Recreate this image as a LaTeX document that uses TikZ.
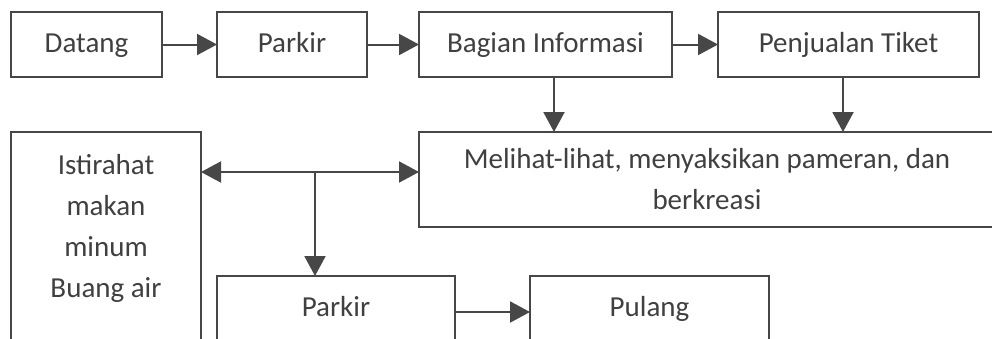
\documentclass[tikz,border=0pt]{standalone}
\usepackage{fontspec}
\setmainfont{Carlito}
\usetikzlibrary{arrows.meta,calc}
\definecolor{edgegray}{HTML}{474747}
\definecolor{inkgray}{HTML}{404040}
\tikzset{
  box/.style={draw=edgegray, line width=2pt, fill=white, inner sep=0pt, outer sep=0pt,
    text=inkgray, align=center, font=\fontsize{29}{41}\selectfont},
  oneline/.style={box, text height=21pt, text depth=6pt},
  flow/.style={draw=edgegray, line width=2pt, -{Triangle[length=20pt,width=21pt]}},
  flowboth/.style={draw=edgegray, line width=2pt, {Triangle[length=20pt,width=21pt]}-{Triangle[length=20pt,width=21pt]}}
}
\begin{document}
\begin{tikzpicture}[x=1pt,y=-1pt]
\useasboundingbox (0,0) rectangle (992,338);
\clip (0,0) rectangle (992,338);
\fill[white] (0,0) rectangle (992,338);

% first row
\node[oneline, minimum width=151pt, minimum height=65pt] (dat) at (86.5,44.5) {Datang};
\node[oneline, minimum width=150pt, minimum height=65pt] (par) at (292,44.5) {Parkir};
\node[oneline, minimum width=253pt, minimum height=65pt] (inf) at (545.5,44.5) {Bagian Informasi};
\node[oneline, minimum width=261pt, minimum height=65pt] (tik) at (848.5,44.5) {Penjualan Tiket};

% activity and rest
\node[box, minimum width=576pt, minimum height=95pt] (mel) at (707,179.5)
  {Melihat-lihat, menyaksikan pameran, dan\\berkreasi};
\node[box, minimum width=190pt, minimum height=228pt] (ist) at (106,246)
  {Istirahat\\makan\\minum\\Buang air\\ };

% leaving
\node[oneline, minimum width=238pt, minimum height=66pt] (pk2) at (336,309) {Parkir};
\node[oneline, minimum width=239pt, minimum height=66pt] (pul) at (649.5,309) {Pulang};

% connectors
\draw[flow] (dat) -- (par);
\draw[flow] (par) -- (inf);
\draw[flow] (inf) -- (tik);

\coordinate (infdrop) at (554,0);
\coordinate (tikdrop) at (843,0);
\draw[flow] (inf.south -| infdrop) -- (infdrop |- mel.north);
\draw[flow] (tik.south -| tikdrop) -- (tikdrop |- mel.north);

\coordinate (fork) at (315,172);
\draw[flowboth] (fork -| ist.east) -- (fork -| mel.west);
\draw[flow] (fork) -- (fork |- pk2.north);

\draw[flow] ([yshift=-3pt]pk2.east) -- ([yshift=-3pt]pk2.east -| pul.west);
\end{tikzpicture}
\end{document}
